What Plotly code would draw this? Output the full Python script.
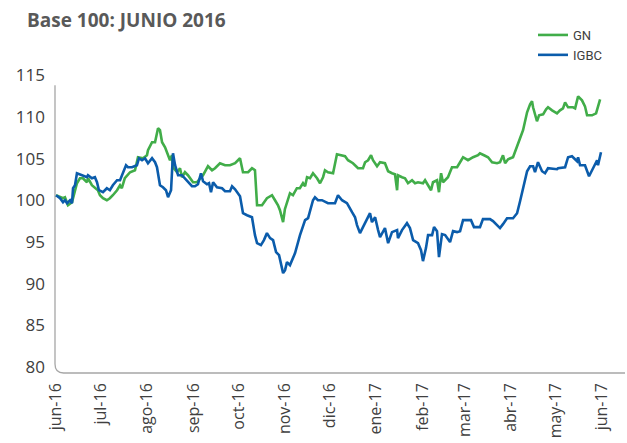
import pandas as pd
import plotly.graph_objects as go

# ---- data ----
start_date = "2016-06-01"

gn_days = [0, 2.7, 4.7, 6.0, 8.0, 10.7, 11.4, 12.7, 14.0, 16.0, 18.0, 20.7, 21.4, 24.0, 26.0, 28.0,
           29.4, 31.4, 34.0, 36.0, 38.0, 40.8, 42.8, 44.0, 46.0, 47.5, 49.5, 52.8, 54.8, 58.2, 60.8,
           61.5, 64.2, 66.2, 68.2, 69.5, 70.9, 72.9, 74.9, 76.2, 77.5, 78.2, 80.9, 82.9, 84.2, 86.2,
           88.2, 89.6, 91.6, 94.3, 96.3, 98.3, 101.6, 104.3, 106.3, 109.6, 113.0, 116.3, 119.7, 123.0,
           125.0, 128.4, 131.0, 133.0, 134.4, 137.7, 141.0, 144.4, 146.4, 148.4, 149.7, 151.8, 153.0,
           156.4, 158.4, 161.0, 163.0, 165.1, 166.5, 167.8, 169.8, 171.8, 174.5, 176.5, 178.5, 179.8,
           181.8, 185.2, 187.8, 189.9, 193.2, 195.2, 198.5, 201.9, 205.2, 206.6, 208.6, 210.6, 211.9,
           214.6, 216.6, 219.9, 222.0, 224.6, 226.6, 228.0, 228.6, 231.3, 233.3, 235.3, 238.0, 240.0,
           242.0, 245.3, 246.7, 248.7, 250.7, 252.0, 254.7, 256.0, 257.4, 258.7, 262.0, 264.7, 268.1,
           270.1, 272.1, 275.4, 278.8, 282.1, 283.4, 286.1, 288.8, 291.5, 294.8, 296.8, 298.8, 300.2,
           302.2, 305.5, 308.2, 310.2, 312.2, 314.9, 316.9, 318.2, 318.9, 321.5, 322.9, 325.6, 327.6,
           328.9, 331.6, 334.9, 336.9, 338.9, 340.3, 342.3, 345.6, 347.0, 349.0, 351.6, 353.6, 355.0,
           358.3, 361.0, 363.7]
gn_vals = [100.62, 100.38, 100.26, 100.38, 99.42, 99.78, 100.26, 100.98, 102.06, 102.66, 102.66,
           102.18, 102.66, 101.82, 101.46, 101.22, 100.62, 100.26, 100.02, 100.26, 100.62, 101.22,
           101.82, 101.46, 102.66, 103.02, 103.38, 103.62, 105.18, 105.06, 105.42, 106.02, 106.98,
           106.98, 108.66, 108.42, 106.98, 106.38, 105.42, 104.82, 105.42, 103.98, 103.38, 103.86,
           102.78, 103.38, 103.02, 102.66, 102.18, 102.18, 102.66, 103.02, 104.10, 103.62, 103.86,
           104.46, 104.22, 104.22, 104.46, 105.06, 103.38, 103.38, 103.86, 103.62, 99.42, 99.42,
           100.26, 100.62, 100.02, 99.42, 98.82, 97.39, 98.94, 100.86, 100.62, 101.46, 101.46,
           102.06, 101.70, 102.78, 102.66, 103.26, 102.66, 102.06, 102.78, 103.62, 103.38, 103.26,
           105.54, 105.42, 105.30, 104.82, 104.46, 103.86, 103.86, 104.58, 104.82, 105.42, 104.82,
           104.10, 104.58, 104.46, 103.50, 103.26, 103.14, 101.22, 103.02, 102.78, 102.66, 102.06,
           102.42, 102.06, 102.18, 102.06, 102.42, 101.82, 101.22, 102.18, 102.42, 100.98, 103.26,
           102.18, 102.78, 103.98, 103.98, 104.58, 105.18, 104.82, 105.18, 105.42, 105.66, 105.42,
           105.18, 104.58, 104.46, 104.58, 105.42, 104.46, 104.94, 105.18, 106.38, 107.46, 108.42,
           110.57, 111.53, 111.89, 111.17, 109.50, 110.21, 110.33, 110.93, 111.17, 110.81, 110.45,
           110.81, 111.05, 111.77, 111.17, 111.17, 111.05, 112.49, 112.01, 111.29, 110.21, 110.21,
           110.45, 112.13]

igbc_days = [0, 2.7, 4.7, 6.0, 7.4, 9.4, 10.7, 11.4, 12.7, 14.0, 17.4, 20.7, 21.4, 24.0, 26.0,
             27.4, 28.7, 31.4, 34.0, 36.0, 38.0, 40.8, 42.8, 44.8, 46.8, 48.1, 50.8, 54.1, 55.5,
             57.5, 59.5, 61.5, 64.2, 66.2, 67.5, 69.5, 71.5, 73.5, 74.9, 76.9, 78.2, 79.6, 81.6,
             84.2, 86.2, 88.2, 90.9, 92.9, 94.9, 96.9, 98.3, 100.9, 102.3, 103.6, 105.0, 107.6,
             111.0, 113.0, 116.3, 117.7, 119.7, 123.0, 125.0, 127.7, 131.0, 133.0, 134.4, 137.0,
             139.0, 141.0, 143.1, 145.1, 147.1, 149.1, 151.8, 153.1, 154.4, 156.4, 159.8, 163.1,
             165.1, 166.5, 168.5, 169.8, 171.8, 173.1, 175.1, 177.8, 181.8, 186.5, 188.5, 191.2,
             194.5, 197.9, 199.9, 201.2, 203.2, 205.2, 207.9, 209.9, 211.2, 213.3, 215.3, 216.6,
             219.9, 222.0, 224.6, 228.0, 228.6, 231.3, 234.6, 236.6, 238.7, 242.0, 244.0, 245.3,
             247.3, 248.7, 251.4, 252.7, 254.7, 256.0, 258.0, 260.1, 263.4, 265.4, 268.1, 270.1,
             272.1, 277.4, 279.4, 283.4, 285.4, 290.1, 292.1, 296.8, 298.8, 301.5, 305.5, 308.2,
             310.2, 312.2, 314.9, 316.9, 318.9, 320.2, 322.2, 324.9, 326.9, 328.9, 334.9, 335.6,
             340.3, 342.3, 344.9, 348.3, 349.0, 350.3, 353.6, 356.3, 359.0, 361.7, 362.3, 364.3]
igbc_vals = [100.62, 100.26, 99.78, 100.02, 99.66, 100.02, 99.66, 101.46, 101.82, 103.26, 103.02,
             102.78, 103.02, 102.66, 102.78, 102.18, 101.22, 100.98, 101.46, 101.22, 101.82, 102.42,
             102.42, 103.38, 104.22, 103.98, 103.98, 104.22, 105.06, 104.82, 105.06, 104.46, 105.06,
             104.58, 103.98, 101.82, 101.58, 101.22, 100.38, 101.22, 105.66, 104.22, 103.02, 103.02,
             102.66, 102.18, 101.70, 101.70, 101.94, 103.26, 102.30, 101.94, 102.06, 100.98, 102.18,
             101.58, 101.46, 101.10, 101.10, 101.70, 101.34, 100.50, 98.46, 98.22, 97.98, 95.83,
             94.87, 94.63, 95.23, 96.07, 95.47, 95.23, 93.79, 93.43, 91.27, 91.63, 92.59, 92.23,
             93.67, 95.83, 97.03, 97.63, 97.86, 98.82, 100.02, 100.38, 100.02, 100.02, 99.66, 99.66,
             100.62, 100.02, 99.66, 98.58, 97.98, 97.03, 96.07, 96.79, 97.86, 98.46, 97.39, 97.98,
             96.43, 95.59, 96.67, 94.87, 96.19, 96.43, 95.47, 96.43, 97.27, 96.67, 95.23, 94.87,
             94.03, 92.71, 94.27, 95.83, 95.83, 96.79, 96.31, 93.19, 95.95, 95.83, 94.99, 96.31,
             96.19, 96.31, 97.63, 97.63, 96.79, 96.79, 97.75, 97.75, 97.51, 96.67, 97.15, 97.86,
             97.86, 98.46, 99.90, 101.34, 103.50, 104.10, 104.10, 103.38, 104.58, 103.50, 103.26,
             103.86, 103.74, 103.86, 103.98, 105.18, 105.30, 104.70, 105.18, 104.22, 104.22, 102.90,
             103.86, 104.82, 104.22, 105.78]

tick_dates = ["2016-06-01", "2016-07-01", "2016-08-01", "2016-09-01", "2016-10-01", "2016-11-01",
              "2016-12-01", "2017-01-01", "2017-02-01", "2017-03-01", "2017-04-01", "2017-05-01",
              "2017-06-01"]
tick_labels = ["jun-16", "jul-16", "ago-16", "sep-16", "oct-16", "nov-16", "dic-16", "ene-17",
               "feb-17", "mar-17", "abr-17", "may-17", "jun-17"]
y_ticks = [80, 85, 90, 95, 100, 105, 110, 115]

# ---- build ----
t0 = pd.Timestamp(start_date)
gn_x = t0 + pd.to_timedelta(gn_days, unit="D")
igbc_x = t0 + pd.to_timedelta(igbc_days, unit="D")

GREEN = "#41ad49"
BLUE = "#0b5cab"

fig = go.Figure()
fig.add_trace(go.Scatter(x=gn_x, y=gn_vals, name="GN", mode="lines",
                         line=dict(color=GREEN, width=2.6)))
fig.add_trace(go.Scatter(x=igbc_x, y=igbc_vals, name="IGBC", mode="lines",
                         line=dict(color=BLUE, width=2.6)))

W, H = 627, 443
ml, mr, mt, mb = 55, 2, 75, 70
px_per_day = 1.496
x_lo = t0 - pd.Timedelta(days=1 / px_per_day)
x_hi = t0 + pd.Timedelta(days=(W - mr - 56) / px_per_day)

fig.update_layout(
    width=W, height=H,
    margin=dict(l=ml, r=mr, t=mt, b=mb, autoexpand=False),
    paper_bgcolor="white", plot_bgcolor="white",
    title=dict(text="<b>Base 100: JUNIO 2016</b>", xref="container", yref="container",
               x=27 / W, xanchor="left", y=1 - 20 / H, yanchor="middle",
               font=dict(family="Open Sans", size=19, color="#595959")),
    legend=dict(x=533 / W, y=1 - 20 / H, xref="container", yref="container",
                xanchor="left", yanchor="top", bgcolor="rgba(0,0,0,0)",
                font=dict(family="Liberation Sans Narrow, Roboto", size=13, color="#404040")),
    xaxis=dict(type="date", range=[x_lo, x_hi], tickvals=pd.to_datetime(tick_dates),
               ticktext=tick_labels, tickangle=-90, showgrid=False, zeroline=False,
               showline=False, ticks="", ticklabelstandoff=6,
               tickfont=dict(family="Open Sans", size=16, color="#404040")),
    yaxis=dict(range=[79.28, 115.05], tickvals=y_ticks, showgrid=False, zeroline=False,
               showline=False, ticks="", ticklabelstandoff=9,
               tickfont=dict(family="Open Sans", size=17, color="#404040")),
    shapes=[dict(type="path", xref="paper", yref="paper", layer="below",
                 path="M 0,0.966 L 0,0.03 Q 0,0 0.015,0 L 1,0",
                 line=dict(color="#a6a6a6", width=1.3))],
)

fig.write_html("out.html", config={"displayModeBar": False},
               post_script="document.body.style.margin='0';document.body.style.overflow='hidden';")
